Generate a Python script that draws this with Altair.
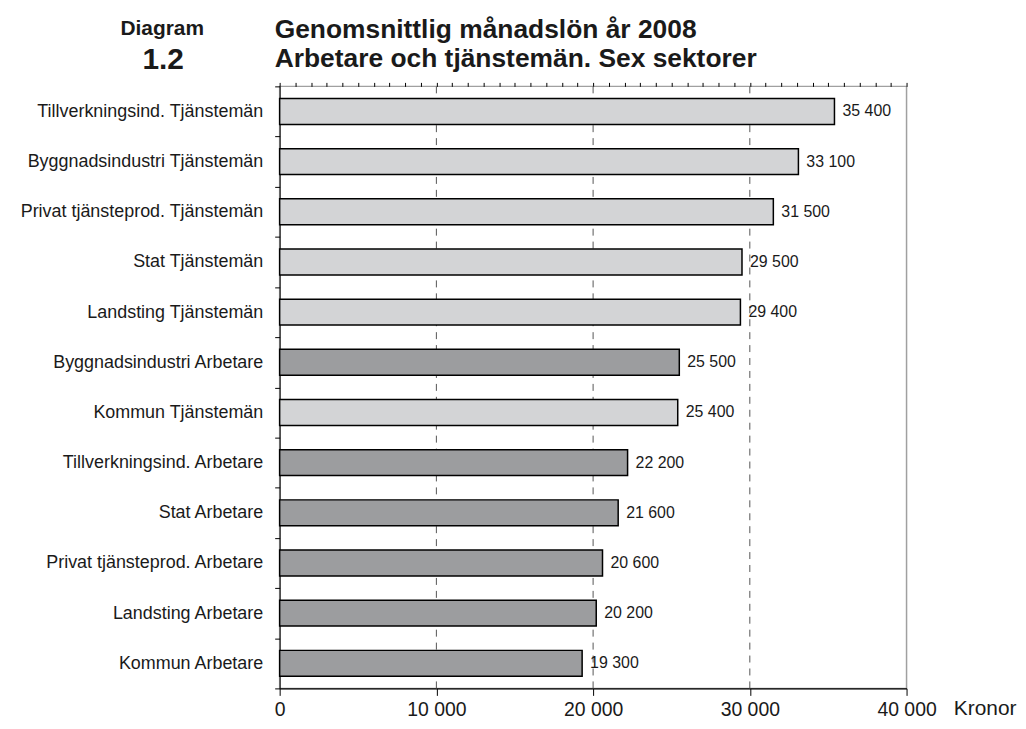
import altair as alt
import pandas as pd

categories = [
    "Tillverkningsind. Tjänstemän",
    "Byggnadsindustri Tjänstemän",
    "Privat tjänsteprod. Tjänstemän",
    "Stat Tjänstemän",
    "Landsting Tjänstemän",
    "Byggnadsindustri Arbetare",
    "Kommun Tjänstemän",
    "Tillverkningsind. Arbetare",
    "Stat Arbetare",
    "Privat tjänsteprod. Arbetare",
    "Landsting Arbetare",
    "Kommun Arbetare",
]
values = [35400, 33100, 31500, 29500, 29400, 25500, 25400, 22200, 21600, 20600, 20200, 19300]
groups = ["Tjänstemän", "Tjänstemän", "Tjänstemän", "Tjänstemän", "Tjänstemän", "Arbetare",
          "Tjänstemän", "Arbetare", "Arbetare", "Arbetare", "Arbetare", "Arbetare"]
value_labels = ["35 400", "33 100", "31 500", "29 500", "29 400", "25 500",
                "25 400", "22 200", "21 600", "20 600", "20 200", "19 300"]
major_ticks = [0, 10000, 20000, 30000, 40000]
minor_ticks = [i * 1000 for i in range(41)]
grid_values = [10000, 20000, 30000]

FONT = "Liberation Sans"

df = pd.DataFrame({"cat": categories, "val": values, "grp": groups, "lab": value_labels})
grid_df = pd.DataFrame({"g": grid_values})

xscale = alt.Scale(domain=[0, 40000], nice=False, zero=True)
yscale = alt.Scale(paddingInner=0, paddingOuter=0)

grid = alt.Chart(grid_df).mark_rule(color="#555555", strokeWidth=1, strokeDash=[7, 6]).encode(
    x=alt.X("g:Q", scale=xscale, axis=None)
)

bars = alt.Chart(df).mark_bar(size=26, stroke="black", strokeWidth=1.5).encode(
    y=alt.Y("cat:N", sort=categories, scale=yscale, title=None,
            axis=alt.Axis(tickBand="extent", tickSize=5, tickColor="black", domainColor="black",
                          labelFontSize=18, labelFont=FONT, labelColor="#1a1a1a",
                          labelPadding=12, labelLimit=400, grid=False)),
    x=alt.X("val:Q", scale=xscale,
            axis=alt.Axis(values=major_ticks, labelExpr="replace(format(datum.value, ','), ',', ' ')",
                          tickSize=7, tickColor="black", domainColor="black", domainWidth=1.2,
                          labelFontSize=19.5, labelFont=FONT, labelColor="#1a1a1a",
                          labelBaseline="alphabetic", labelPadding=20, labelFlush=False,
                          grid=False, title="Kronor", titleFont=FONT, titleFontSize=21,
                          titleFontWeight="normal", titleColor="#1a1a1a", titleX=677, titleY=26,
                          titleAlign="left", titleBaseline="alphabetic", titleAnchor="start")),
    color=alt.Color("grp:N", scale=alt.Scale(domain=["Tjänstemän", "Arbetare"],
                                             range=["#d3d4d6", "#9c9d9f"]), legend=None),
)

labels = alt.Chart(df).mark_text(align="left", baseline="middle", dx=8, fontSize=16, font=FONT,
                                 color="#1a1a1a").encode(
    y=alt.Y("cat:N", sort=categories, scale=yscale, title=None),
    x=alt.X("val:Q", scale=xscale,
            axis=alt.Axis(values=minor_ticks, labels=False, tickSize=4, tickColor="black",
                          domain=False, grid=False, title=None)),
    text="lab:N",
)

title_df = pd.DataFrame({"t": ["Diagram", "1.2", "Genomsnittlig månadslön år 2008",
                               "Arbetare och tjänstemän. Sex sektorer"]})

def txt(i, **kw):
    return alt.Chart(title_df.iloc[[i]]).mark_text(font=FONT, fontWeight="bold", color="#1a1a1a",
                                                    baseline="alphabetic", **kw).encode(text="t:N")

t_diag = txt(0, align="center", fontSize=21).encode(x=alt.value(-118), y=alt.value(-52))
t_num = txt(1, align="center", fontSize=30).encode(x=alt.value(-117), y=alt.value(-17))
t_l1 = txt(2, align="left", fontSize=26.5).encode(x=alt.value(-5), y=alt.value(-49))
t_l2 = txt(3, align="left", fontSize=26.5).encode(x=alt.value(-5), y=alt.value(-19))

chart = alt.layer(grid, bars, labels, t_diag, t_num, t_l1, t_l2).resolve_axis(
    x="independent"
).properties(
    width=630, height=605,
    autosize=alt.AutoSizeParams(type="none"),
    padding={"left": 273, "top": 77, "right": 112, "bottom": 31},
).configure_view(stroke="#a0a0a0", strokeWidth=1.5)

chart.save("out.html", embed_options={"renderer": "svg", "actions": False})
